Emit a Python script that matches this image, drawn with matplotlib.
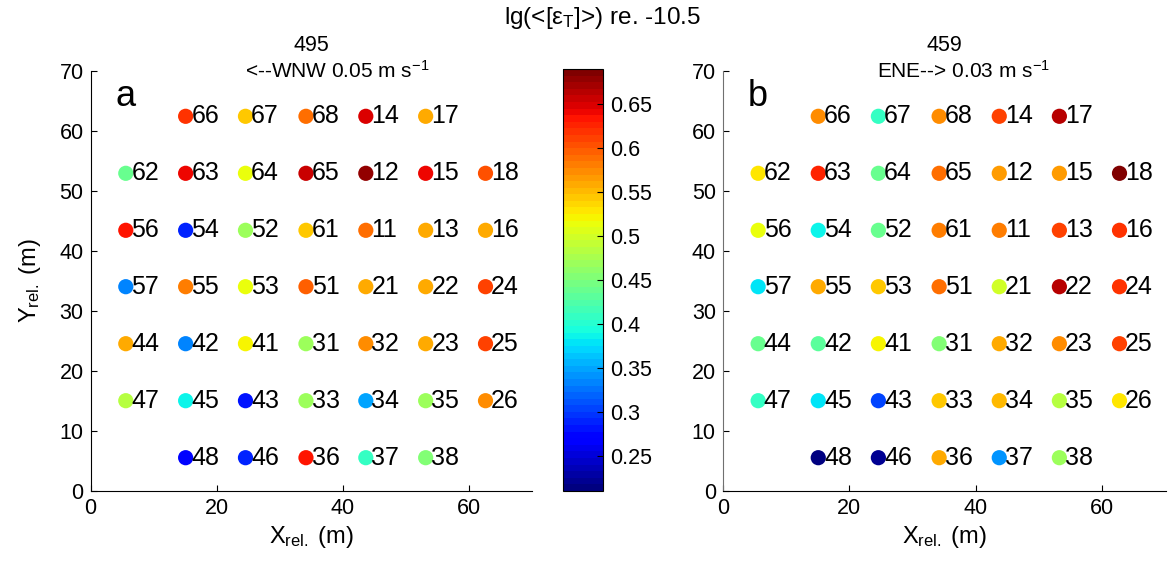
import matplotlib
matplotlib.use("Agg")
import matplotlib.pyplot as plt
import numpy as np

plt.rcParams['font.family'] = ['Liberation Sans', 'DejaVu Sans']
plt.rcParams['mathtext.fontset'] = 'custom'
plt.rcParams['mathtext.rm'] = 'Liberation Sans'
plt.rcParams['mathtext.it'] = 'Liberation Sans:italic'

# ---- data ----
x_cols = [5.6, 15.1, 24.6, 34.2, 43.7, 53.2, 62.7]
y_rows = [62.4, 52.9, 43.4, 34.0, 24.5, 15.0, 5.5]
layout = [
    [None, 66, 67, 68, 14, 17, None],
    [62, 63, 64, 65, 12, 15, 18],
    [56, 54, 52, 61, 11, 13, 16],
    [57, 55, 53, 51, 21, 22, 24],
    [44, 42, 41, 31, 32, 23, 25],
    [47, 45, 43, 33, 34, 35, 26],
    [None, 48, 46, 36, 37, 38, None],
]
vals_a = {66: 0.62, 67: 0.54, 68: 0.59, 14: 0.65, 17: 0.555,
          62: 0.44, 63: 0.64, 64: 0.51, 65: 0.655, 12: 0.68, 15: 0.64, 18: 0.60,
          56: 0.635, 54: 0.29, 52: 0.47, 61: 0.54, 11: 0.59, 13: 0.555, 16: 0.555,
          57: 0.335, 55: 0.58, 53: 0.51, 51: 0.595, 21: 0.555, 22: 0.555, 24: 0.61,
          44: 0.555, 42: 0.335, 41: 0.52, 31: 0.465, 32: 0.575, 23: 0.555, 25: 0.61,
          47: 0.48, 45: 0.385, 43: 0.28, 33: 0.465, 34: 0.35, 35: 0.465, 26: 0.57,
          48: 0.27, 46: 0.29, 36: 0.63, 37: 0.41, 38: 0.455}
vals_b = {66: 0.575, 67: 0.41, 68: 0.57, 14: 0.61, 17: 0.66,
          62: 0.53, 63: 0.625, 64: 0.44, 65: 0.59, 12: 0.565, 15: 0.565, 18: 0.685,
          56: 0.51, 54: 0.385, 52: 0.44, 61: 0.58, 11: 0.58, 13: 0.61, 16: 0.615,
          57: 0.38, 55: 0.555, 53: 0.54, 51: 0.585, 21: 0.495, 22: 0.66, 24: 0.62,
          44: 0.44, 42: 0.43, 41: 0.52, 31: 0.455, 32: 0.555, 23: 0.57, 25: 0.61,
          47: 0.41, 45: 0.38, 43: 0.305, 33: 0.54, 34: 0.55, 35: 0.48, 26: 0.525,
          48: 0.215, 46: 0.22, 36: 0.555, 37: 0.345, 38: 0.47}
vmin, vmax = 0.21, 0.69
titles = ["495", "459"]
subtitles = [r"<--WNW 0.05 m s$^{-1}$", r"ENE--> 0.03 m s$^{-1}$"]
panel_letters = ["a", "b"]
cbar_ticks = [0.25, 0.3, 0.35, 0.4, 0.45, 0.5, 0.55, 0.6, 0.65]

cmap = plt.get_cmap('jet', 64)

fig = plt.figure(figsize=(11.68, 5.63), dpi=100)
W, H = 1168, 563
ax_a = fig.add_axes([90.5 / W, 1 - 490.7 / H, 441 / W, 420 / H])
ax_b = fig.add_axes([722.7 / W, 1 - 490.7 / H, 443 / W, 420 / H])
cax = fig.add_axes([562.7 / W, 1 - 491 / H, 40.6 / W, 422 / H])

sc = None
for ax, vals, ttl, sub, let, subx in zip([ax_a, ax_b], [vals_a, vals_b], titles,
                                          subtitles, panel_letters, [39.2, 38.1]):
    xs, ys, cs, names = [], [], [], []
    for r, row in enumerate(layout):
        for c, st in enumerate(row):
            if st is None:
                continue
            xs.append(x_cols[c]); ys.append(y_rows[r]); cs.append(vals[st]); names.append(st)
    sc = ax.scatter(xs, ys, c=cs, cmap=cmap, vmin=vmin, vmax=vmax, s=120,
                    edgecolors='none', zorder=3)
    for x, y, n in zip(xs, ys, names):
        ax.text(x + 0.9, y, str(n), ha='left', va='center', fontsize=18, zorder=4)
    ax.set_xlim(0, 70)
    ax.set_ylim(0, 70)
    ax.set_xticks([0, 20, 40, 60])
    ax.set_yticks(range(0, 71, 10))
    ax.tick_params(direction='in', length=4, width=0.8, labelsize=15.5, pad=5)
    for s in ['top', 'right']:
        ax.spines[s].set_visible(False)
    ax.set_xlabel(r"X$_{\rm rel.}$ (m)", fontsize=17, labelpad=4)
    ax.text(5.5, 65.7, let, fontsize=26, ha='center', va='center')
    ax.text(0.5, 1.061, ttl, fontsize=15.5, ha='center', va='center',
            transform=ax.transAxes)
    ax.text(subx, 69.9, sub, fontsize=15, ha='center', va='center', clip_on=False)

ax_a.set_ylabel(r"Y$_{\rm rel.}$ (m)", fontsize=17, labelpad=12)
ax_b.spines['left'].set_color('#707070')

cb = fig.colorbar(sc, cax=cax, ticks=cbar_ticks)
cb.ax.tick_params(direction='in', length=4, labelsize=15.5, pad=5)
cb.ax.set_yticklabels(["0.25", "0.3", "0.35", "0.4", "0.45", "0.5", "0.55", "0.6", "0.65"])
cb.outline.set_linewidth(0.8)

fig.text(602 / W, 1 - 18 / H, r"lg(<[ε$_{\rm T}$]>) re. -10.5", fontsize=17.5,
         ha='center', va='center')

fig.savefig("out.png", dpi=100)
